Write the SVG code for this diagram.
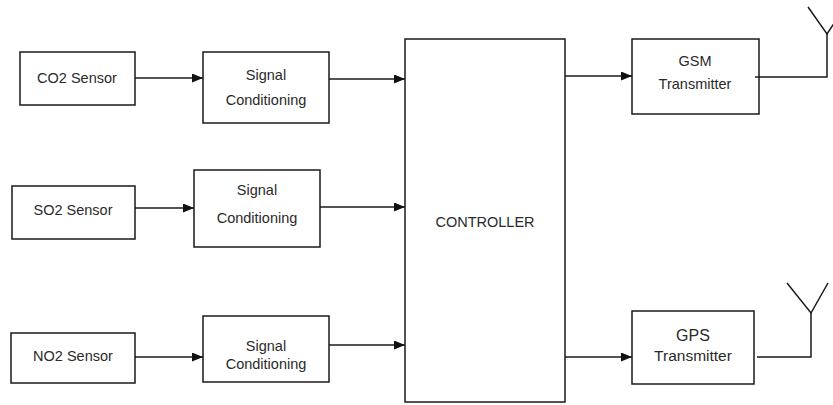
<svg xmlns="http://www.w3.org/2000/svg" width="833" height="405" viewBox="0 0 833 405">
<defs>
<marker id="ah" markerWidth="11" markerHeight="9" refX="11" refY="4.5" orient="auto" markerUnits="userSpaceOnUse">
<path d="M0,0 L11,4.5 L0,9 Z" fill="#111"/>
</marker>
<style>
rect{fill:#fff;stroke:#1a1a1a;stroke-width:1.5}
text{font-family:"Liberation Sans",Arial,sans-serif;font-size:14.5px;fill:#2a2a2a;text-anchor:middle;dominant-baseline:central}
.c line,.c polyline{stroke:#1a1a1a;stroke-width:1.5;fill:none}
.a{marker-end:url(#ah)}
</style>
</defs>
<rect x="0" y="0" width="833" height="405" style="stroke:none"/>
<g id="co2"><rect x="20" y="52" width="115" height="53"/><text x="77" y="78">CO2 Sensor</text></g>
<g id="sc1"><rect x="203" y="52" width="126" height="71"/><text x="266" y="75">Signal</text><text x="266" y="100">Conditioning</text></g>
<g id="so2"><rect x="12" y="186" width="123" height="53"/><text x="73" y="210">SO2 Sensor</text></g>
<g id="sc2"><rect x="194" y="170" width="126" height="77"/><text x="257" y="190">Signal</text><text x="257" y="218">Conditioning</text></g>
<g id="no2"><rect x="11" y="333" width="124" height="50"/><text x="73" y="356">NO2 Sensor</text></g>
<g id="sc3"><rect x="203" y="316" width="126" height="66"/><text x="266" y="346">Signal</text><text x="266" y="364">Conditioning</text></g>
<g id="ctrl"><rect x="405" y="39" width="160" height="363"/><text x="485" y="222">CONTROLLER</text></g>
<g id="gsm"><rect x="632" y="39" width="127" height="75"/><text x="695" y="61">GSM</text><text x="695" y="84">Transmitter</text></g>
<g id="gps"><rect x="632" y="311" width="122" height="73"/><text x="693" y="335" style="font-size:16px">GPS</text><text x="693" y="355" style="font-size:15.5px">Transmitter</text></g>
<g id="ant1" class="c"><polyline points="808,7 827,34 840,14"/></g>
<g id="ant2" class="c"><polyline points="787,283 811,313 828,283"/></g>
<g class="c" id="connectors">
<line class="a" x1="135" y1="78" x2="203" y2="78"/>
<line class="a" x1="329" y1="79" x2="405" y2="79"/>
<line class="a" x1="135" y1="208" x2="194" y2="208"/>
<line class="a" x1="320" y1="207" x2="405" y2="207"/>
<line class="a" x1="135" y1="357" x2="203" y2="357"/>
<line class="a" x1="329" y1="345" x2="405" y2="345"/>
<line class="a" x1="565" y1="76" x2="632" y2="76"/>
<line class="a" x1="565" y1="357" x2="632" y2="357"/>
<polyline points="755,77 827,77 827,34"/>
<polyline points="757,357 811,357 811,313"/>
</g>
</svg>
